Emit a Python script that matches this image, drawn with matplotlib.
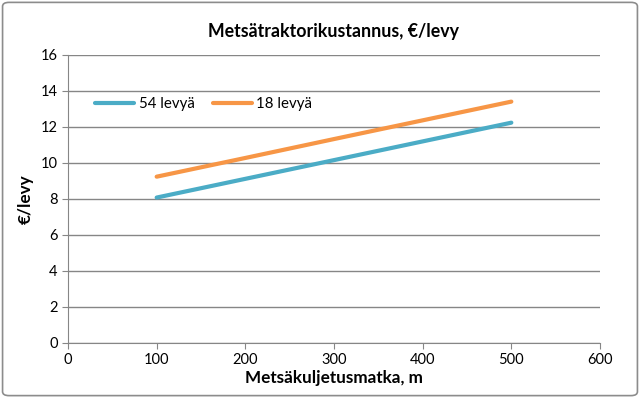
import matplotlib
matplotlib.use("Agg")
import matplotlib.pyplot as plt
from matplotlib.patches import FancyBboxPatch

distance = [100, 200, 300, 400, 500]
cost_54 = [8.08, 9.12, 10.16, 11.20, 12.24]
cost_18 = [9.24, 10.28, 11.33, 12.37, 13.41]
series_labels = ["54 levyä", "18 levyä"]
title = "Metsätraktorikustannus, €/levy"
xlabel = "Metsäkuljetusmatka, m"
ylabel = "€/levy"

plt.rcParams['font.family'] = ['Lato', 'DejaVu Sans']

fig = plt.figure(figsize=(6.4, 3.98), dpi=100)
ax = fig.add_axes([68/640, 1-343/398, (600-68)/640, (343-55)/398])

grid_c = "#868686"
ax.plot(distance, cost_54, color="#4BACC6", lw=3, solid_capstyle="round", label=series_labels[0])
ax.plot(distance, cost_18, color="#F79646", lw=3, solid_capstyle="round", label=series_labels[1])

ax.set_xlim(0, 600)
ax.set_ylim(0, 16)
ax.set_xticks(range(0, 601, 100))
ax.set_yticks(range(0, 17, 2))
ax.yaxis.grid(True, color=grid_c, lw=1)
ax.set_axisbelow(True)
for s in ["top", "right"]:
    ax.spines[s].set_visible(False)
for s in ["left", "bottom"]:
    ax.spines[s].set_color(grid_c)
ax.tick_params(axis="both", colors=grid_c, labelcolor="black", labelsize=10.5, length=4, direction="out")

ax.set_title(title, fontsize=12.8, fontweight="bold", pad=13)
ax.set_xlabel(xlabel, fontsize=12.3, fontweight="bold", labelpad=2)
ax.set_ylabel(ylabel, fontsize=12.3, fontweight="bold", labelpad=5)

ax.legend(loc="upper left", bbox_to_anchor=(0.04, 0.875), ncol=2, frameon=False,
          fontsize=10.8, handlelength=2.6, columnspacing=1.2, handletextpad=0.3,
          borderaxespad=0)

fig.patches.append(FancyBboxPatch((0.004, 0.006), 0.992, 0.988,
                                  boxstyle="round,pad=0,rounding_size=0.01",
                                  transform=fig.transFigure, facecolor="none",
                                  edgecolor="#8c8c8c", lw=1.2))

fig.savefig("out.png", dpi=100)
